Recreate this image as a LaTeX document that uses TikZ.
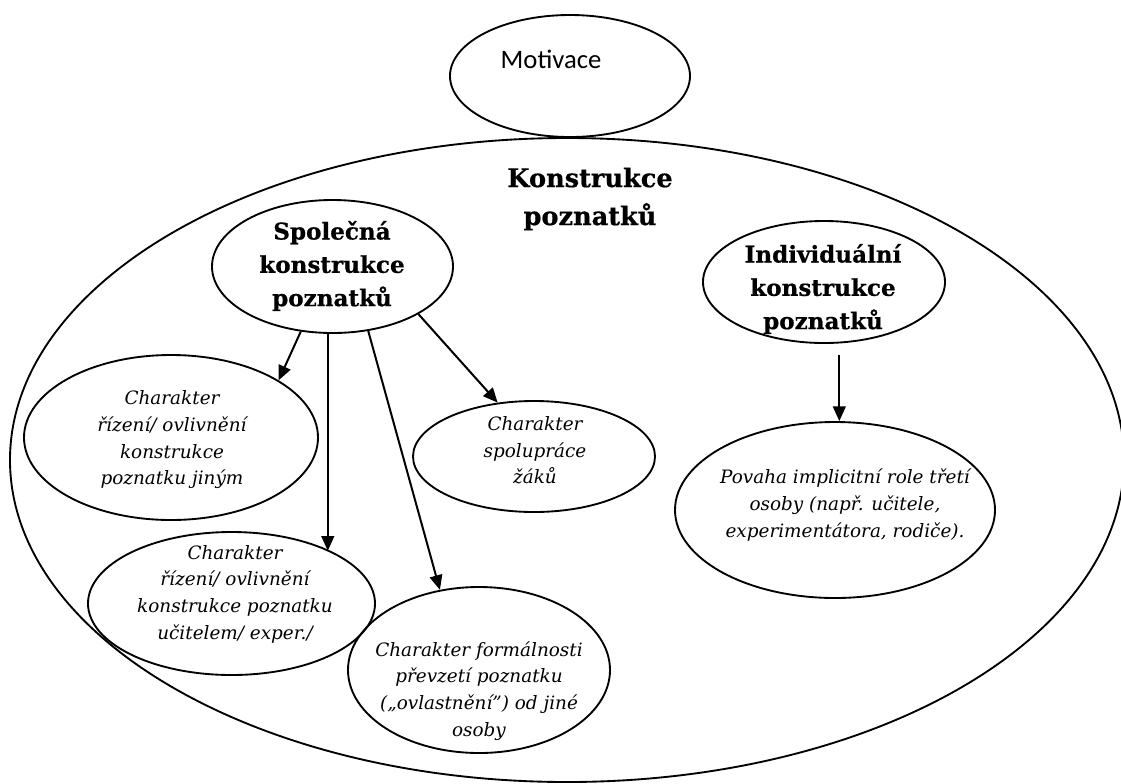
\documentclass[tikz,border=0pt]{standalone}
\usepackage{fontspec}
\setmainfont{DejaVu Serif}[BoldFeatures={FakeBold=0.6}]
\newfontfamily\calfont{Carlito}
\usetikzlibrary{arrows.meta,shapes.geometric}
\begin{document}
\begin{tikzpicture}[x=0.75pt,y=-0.75pt,
  ell/.style={draw, ellipse, line width=1.4pt, inner sep=0pt},
  boldtxt/.style={font=\bfseries\fontsize{17.3}{25}\selectfont, align=center, inner sep=0pt},
  bigtxt/.style={font=\bfseries\fontsize{19.2}{28.5}\selectfont, align=center, inner sep=0pt},
  itxt/.style={font=\itshape\fontsize{13.8}{20}\selectfont, align=center, inner sep=0pt},
  arr/.style={-{Triangle[length=11pt,width=9.5pt]}, line width=1.5pt}]
\useasboundingbox (0,0) rectangle (1121,783);
% outer ellipse
\draw[line width=1.4pt] (567,460) ellipse [x radius=417.75pt, y radius=241.5pt];
\node[bigtxt] (bigt) at (590,199) {Konstrukce\\poznatků};

% Motivace
\node[ell, minimum width=180pt, minimum height=91.5pt] (mot) at (570,76) {};
\node[font=\calfont\fontsize{20}{24}\selectfont, inner sep=0pt] (mott) at (551,59) {Motivace};

% Společná
\node[ell, minimum width=180.75pt, minimum height=99.75pt] (spol) at (332.5,266.5) {};
\node[boldtxt] (spolt) at (332,266) {Společná\\konstrukce\\poznatků};

% Individuální
\node[ell, minimum width=181.5pt, minimum height=91.5pt] (ind) at (824,282) {};
\node[boldtxt] (indt) at (823,289) {Individuální\\konstrukce\\poznatků};

% Povaha
\node[ell, minimum width=240pt, minimum height=132pt] (pov) at (835,510) {};
\node[itxt] (povt) at (845,505) {Povaha implicitní role třetí\\osoby (např. učitele,\\experimentátora, rodiče).};

% jiným
\node[ell, minimum width=220.5pt, minimum height=123.75pt] (jin) at (171,437.5) {};
\node[itxt] (jint) at (172,440) {Charakter\\řízení/ ovlivnění\\konstrukce\\poznatku jiným};

% spolupráce
\node[ell, minimum width=181.5pt, minimum height=83.25pt] (spl) at (534,456.5) {};
\node[itxt] (splt) at (535,450.5) {Charakter\\spolupráce\\žáků};

% učitelem
\node[ell, minimum width=215.25pt, minimum height=107.25pt] (uci) at (231.5,603.5) {};
\node[itxt] (ucit) at (235,594) {Charakter\\řízení/ ovlivnění\\konstrukce poznatku\\učitelem/ exper./};

% formálnosti
\node[ell, minimum width=196.5pt, minimum height=124.5pt] (frm) at (479,670) {};
\node[itxt] (frmt) at (479,691) {Charakter formálnosti\\převzetí poznatku\\(„ovlastnění”) od jiné\\osoby};

% arrows
\draw[arr] (spol.244) -- (jin.28);
\draw[arr] (spol.266) -- (spol.266 |- uci.28.7);
\draw[arr] (spol.299.4) -- (frm.116.3);
\draw[arr] (spol.331) -- (spl.124.8);
\draw[arr, shorten <=9pt] (ind.284) -- (ind.284 |- pov.87.4);
\end{tikzpicture}
\end{document}
